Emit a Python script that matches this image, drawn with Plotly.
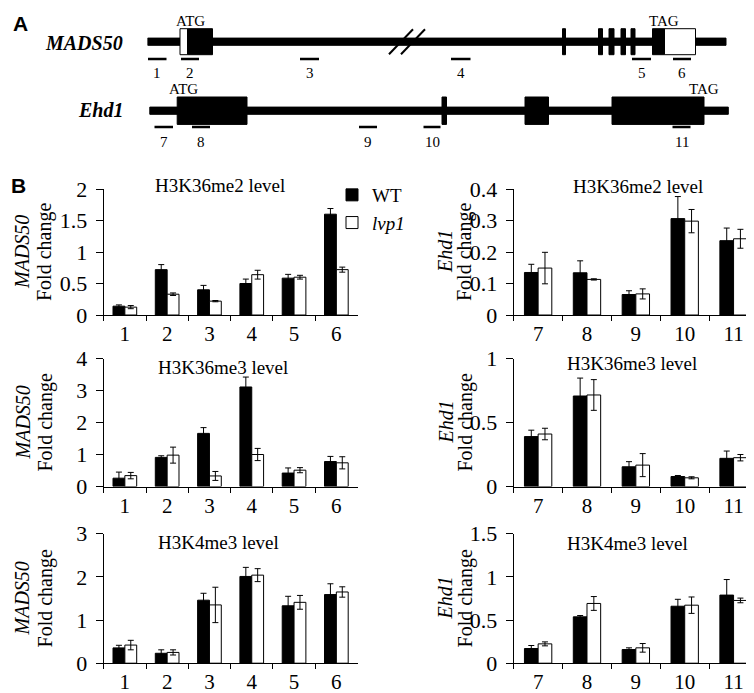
import plotly.graph_objects as go

# ---- data ----
mads_sites = ['1', '2', '3', '4', '5', '6']
ehd_sites = ['7', '8', '9', '10', '11']

# H3K36me2
k36me2_mads_wt = [0.14, 0.72, 0.40, 0.50, 0.585, 1.60]
k36me2_mads_wt_err = [0.02, 0.08, 0.07, 0.07, 0.06, 0.09]
k36me2_mads_lvp = [0.125, 0.33, 0.22, 0.64, 0.60, 0.72]
k36me2_mads_lvp_err = [0.025, 0.02, 0.01, 0.07, 0.03, 0.04]

k36me2_ehd_wt = [0.135, 0.134, 0.065, 0.306, 0.236]
k36me2_ehd_wt_err = [0.026, 0.038, 0.012, 0.07, 0.04]
k36me2_ehd_lvp = [0.149, 0.113, 0.067, 0.298, 0.242]
k36me2_ehd_lvp_err = [0.05, 0.002, 0.016, 0.037, 0.03]

# H3K36me3
k36me3_mads_wt = [0.26, 0.91, 1.66, 3.11, 0.42, 0.78]
k36me3_mads_wt_err = [0.19, 0.05, 0.18, 0.31, 0.16, 0.16]
k36me3_mads_lvp = [0.34, 0.98, 0.33, 1.0, 0.51, 0.74]
k36me3_mads_lvp_err = [0.10, 0.25, 0.14, 0.19, 0.08, 0.19]

k36me3_ehd_wt = [0.39, 0.707, 0.154, 0.078, 0.22]
k36me3_ehd_wt_err = [0.05, 0.14, 0.04, 0.008, 0.057]
k36me3_ehd_lvp = [0.41, 0.715, 0.167, 0.068, 0.225]
k36me3_ehd_lvp_err = [0.045, 0.12, 0.09, 0.008, 0.025]

# H3K4me3
k4me3_mads_wt = [0.355, 0.23, 1.46, 2.01, 1.33, 1.59]
k4me3_mads_wt_err = [0.06, 0.08, 0.16, 0.21, 0.22, 0.25]
k4me3_mads_lvp = [0.42, 0.25, 1.35, 2.04, 1.41, 1.65]
k4me3_mads_lvp_err = [0.11, 0.06, 0.41, 0.15, 0.16, 0.12]

k4me3_ehd_wt = [0.17, 0.537, 0.158, 0.66, 0.789]
k4me3_ehd_wt_err = [0.035, 0.015, 0.02, 0.08, 0.18]
k4me3_ehd_lvp = [0.224, 0.692, 0.178, 0.672, 0.727]
k4me3_ehd_lvp_err = [0.023, 0.08, 0.05, 0.095, 0.027]

# gene schematics (arbitrary schematic units along the gene)
mads50_length = 578.5
mads50_cds = [[40, 65], [415, 418], [451, 455], [461.5, 466.5], [473.5, 478], [483.5, 487.5], [505, 517]]
mads50_utr = [[32.5, 40], [517, 548]]
mads50_primers = [[0.5, 19], [33.5, 51.5], [152.5, 171.5], [303.5, 323], [484.5, 503.5], [525.5, 543.5]]
mads50_break = 259.5
mads50_atg, mads50_tag = 43, 516.5

ehd1_span = [2.3, 580.8]
ehd1_cds = [[29.7, 99.5], [294.5, 299], [377.5, 401], [464.5, 556.5]]
ehd1_primers = [[7, 25.5], [44.5, 62.5], [211.5, 229.5], [276, 293], [525, 543]]
ehd1_atg, ehd1_tag = 36, 556.5

W, H = 754, 693
SERIF = 'Liberation Serif, Times New Roman, serif'
SANS = 'Liberation Sans, Arial, sans-serif'


def px_x(v):
    return v / W


def px_y(v):
    return 1 - v / H


fig = go.Figure()

panels = [
    # (sites, wt, wt_err, lvp, lvp_err, ymax, dtick, title, gene, col, row)
    (mads_sites, k36me2_mads_wt, k36me2_mads_wt_err, k36me2_mads_lvp, k36me2_mads_lvp_err, 2, 0.5, 'H3K36me2 level', 'MADS50', 0, 0),
    (ehd_sites, k36me2_ehd_wt, k36me2_ehd_wt_err, k36me2_ehd_lvp, k36me2_ehd_lvp_err, 0.4, 0.1, 'H3K36me2 level', 'Ehd1', 1, 0),
    (mads_sites, k36me3_mads_wt, k36me3_mads_wt_err, k36me3_mads_lvp, k36me3_mads_lvp_err, 4, 1, 'H3K36me3 level', 'MADS50', 0, 1),
    (ehd_sites, k36me3_ehd_wt, k36me3_ehd_wt_err, k36me3_ehd_lvp, k36me3_ehd_lvp_err, 1, 0.5, 'H3K36me3 level', 'Ehd1', 1, 1),
    (mads_sites, k4me3_mads_wt, k4me3_mads_wt_err, k4me3_mads_lvp, k4me3_mads_lvp_err, 3, 1, 'H3K4me3 level', 'MADS50', 0, 2),
    (ehd_sites, k4me3_ehd_wt, k4me3_ehd_wt_err, k4me3_ehd_lvp, k4me3_ehd_lvp_err, 1.5, 0.5, 'H3K4me3 level', 'Ehd1', 1, 2),
]

col_px = [(95.7, 349.5), (505.7, 750)]
row_px = [(181, 307), (350.5, 478.5), (525.7, 655.2)]
title_px = {(0, 0): (212, 177.5), (1, 0): (630, 179), (0, 1): (215, 360), (1, 1): (623.5, 355.5),
            (0, 2): (210, 534.5), (1, 2): (619, 535)}
ytitle_px = {0: (14, 37), 1: (437, 457)}

annotations = []
for i, (sites, wt, wt_e, lvp, lvp_e, ymax, dt, title, gene, c, r) in enumerate(panels):
    n = i + 1
    xa = 'x' if n == 1 else f'x{n}'
    ya = 'y' if n == 1 else f'y{n}'
    fig.add_trace(go.Bar(
        x=sites, y=wt, name='WT', xaxis=xa, yaxis=ya,
        marker=dict(color='black', line=dict(color='black', width=1)),
        error_y=dict(type='data', array=wt_e, color='black', thickness=1, width=3),
        showlegend=(n == 1)))
    fig.add_trace(go.Bar(
        x=sites, y=lvp, name='<i>lvp1</i>', xaxis=xa, yaxis=ya,
        marker=dict(color='white', line=dict(color='black', width=1)),
        error_y=dict(type='data', array=lvp_e, color='black', thickness=1, width=3),
        showlegend=(n == 1)))

    x0, x1 = col_px[c]
    y0, y1 = row_px[r]
    fig.layout['xaxis' if n == 1 else f'xaxis{n}'] = dict(
        type='category', domain=[px_x(x0), px_x(x1)], anchor=ya, range=[-0.5, len(sites) - 0.5],
        showline=True, linecolor='black', linewidth=1, ticks='outside', tickson='boundaries',
        ticklen=5, tickcolor='black', showgrid=False, zeroline=False, automargin=False,
        tickfont=dict(family=SERIF, size=21, color='black'))
    fig.layout['yaxis' if n == 1 else f'yaxis{n}'] = dict(
        domain=[px_y(y1), px_y(y0)], anchor=xa, range=[0, ymax], dtick=dt, tick0=0,
        showline=True, linecolor='black', linewidth=1, ticks='outside', ticklen=7,
        tickcolor='black', showgrid=False, zeroline=False, automargin=False,
        ticklabelstandoff=4,
        tickfont=dict(family=SERIF, size=22, color='black'))

    tx, ty = title_px[(c, r)]
    annotations.append(dict(text=title, x=px_x(tx), y=px_y(ty), xref='paper', yref='paper',
                            showarrow=False, xanchor='center', yanchor='middle',
                            font=dict(family=SERIF, size=19, color='black')))
    gx, fx = ytitle_px[c]
    cy = px_y((y0 + y1) / 2)
    annotations.append(dict(text=f'<i>{gene}</i>', x=px_x(gx), y=cy, xref='paper', yref='paper',
                            textangle=-90, showarrow=False, xanchor='center', yanchor='middle',
                            font=dict(family=SERIF, size=20, color='black')))
    annotations.append(dict(text='Fold change', x=px_x(fx), y=cy, xref='paper', yref='paper',
                            textangle=-90, showarrow=False, xanchor='center', yanchor='middle',
                            font=dict(family=SERIF, size=20, color='black')))

# ---- panel A: gene schematics ----
gx0 = 139.5
fig.layout['xaxis7'] = dict(domain=[px_x(gx0), 1], range=[0, W - gx0], visible=False,
                            fixedrange=True, automargin=False)
fig.layout['yaxis7'] = dict(domain=[px_y(150), 1], range=[150, 0], visible=False,
                            fixedrange=True, automargin=False)
mads_y, ehd_y = 33.7, 102.7

shapes = []


def rect(xa, xb, yc, half, fill):
    shapes.append(dict(type='rect', xref='x7', yref='y7', x0=xa, x1=xb, y0=yc - half, y1=yc + half,
                       fillcolor=fill, line=dict(color='black', width=1)))


def seg(xa, xb, ya, yb, w):
    shapes.append(dict(type='line', xref='x7', yref='y7', x0=xa, x1=xb, y0=ya, y1=yb,
                       line=dict(color='black', width=w)))


# MADS50
rect(0, mads50_length, mads_y, 3.6, 'black')
for a, b in mads50_cds:
    rect(a, b, mads_y, 13, 'black')
for a, b in mads50_utr:
    rect(a, b, mads_y, 13, 'white')
for off in (-6, 6):
    seg(mads50_break + off - 12, mads50_break + off + 12, mads_y + 12.5, mads_y - 12.5, 2)
for k, (a, b) in enumerate(mads50_primers):
    seg(a, b, 51, 51, 2.5)
    annotations.append(dict(text=mads_sites[k], x=(a + b) / 2, y=64.5, xref='x7', yref='y7',
                            showarrow=False, font=dict(family=SERIF, size=15, color='black')))

# Ehd1
rect(ehd1_span[0], ehd1_span[1], ehd_y, 3.6, 'black')
for a, b in ehd1_cds:
    rect(a, b, ehd_y, 13.7, 'black')
for k, (a, b) in enumerate(ehd1_primers):
    seg(a, b, 119, 119, 2.5)
    annotations.append(dict(text=ehd_sites[k], x=(a + b) / 2, y=133.5, xref='x7', yref='y7',
                            showarrow=False, font=dict(family=SERIF, size=15, color='black')))

for txt, xv, yv in [('ATG', mads50_atg, 12.7), ('TAG', mads50_tag, 12.7),
                    ('ATG', ehd1_atg, 81), ('TAG', ehd1_tag, 81)]:
    annotations.append(dict(text=txt, x=xv, y=yv, xref='x7', yref='y7', showarrow=False,
                            font=dict(family=SERIF, size=15, color='black')))

annotations.append(dict(text='<b><i>MADS50</i></b>', x=px_x(117), y=px_y(35), xref='paper', yref='paper',
                        xanchor='right', yanchor='middle', showarrow=False,
                        font=dict(family=SERIF, size=20, color='black')))
annotations.append(dict(text='<b><i>Ehd1</i></b>', x=px_x(117), y=px_y(102), xref='paper', yref='paper',
                        xanchor='right', yanchor='middle', showarrow=False,
                        font=dict(family=SERIF, size=20, color='black')))
annotations.append(dict(text='<b>A</b>', x=px_x(12), y=px_y(15), xref='paper', yref='paper',
                        xanchor='center', yanchor='middle',
                        showarrow=False, font=dict(family=SANS, size=21, color='black')))
annotations.append(dict(text='<b>B</b>', x=px_x(10), y=px_y(177), xref='paper', yref='paper',
                        xanchor='center', yanchor='middle',
                        showarrow=False, font=dict(family=SANS, size=21, color='black')))

fig.update_layout(
    template='none',
    width=W, height=H,
    margin=dict(l=0, r=0, t=0, b=0, pad=0, autoexpand=False),
    font=dict(family=SERIF, color='black'),
    paper_bgcolor='white', plot_bgcolor='white',
    barmode='group', bargap=0.44, bargroupgap=0,
    shapes=shapes, annotations=annotations,
    legend=dict(x=px_x(324), y=px_y(168), xanchor='left', yanchor='top',
                font=dict(family=SERIF, size=19, color='black'), itemwidth=30,
                tracegroupgap=0, bgcolor='rgba(0,0,0,0)', borderwidth=0),
)

fig.write_html('out.html')
